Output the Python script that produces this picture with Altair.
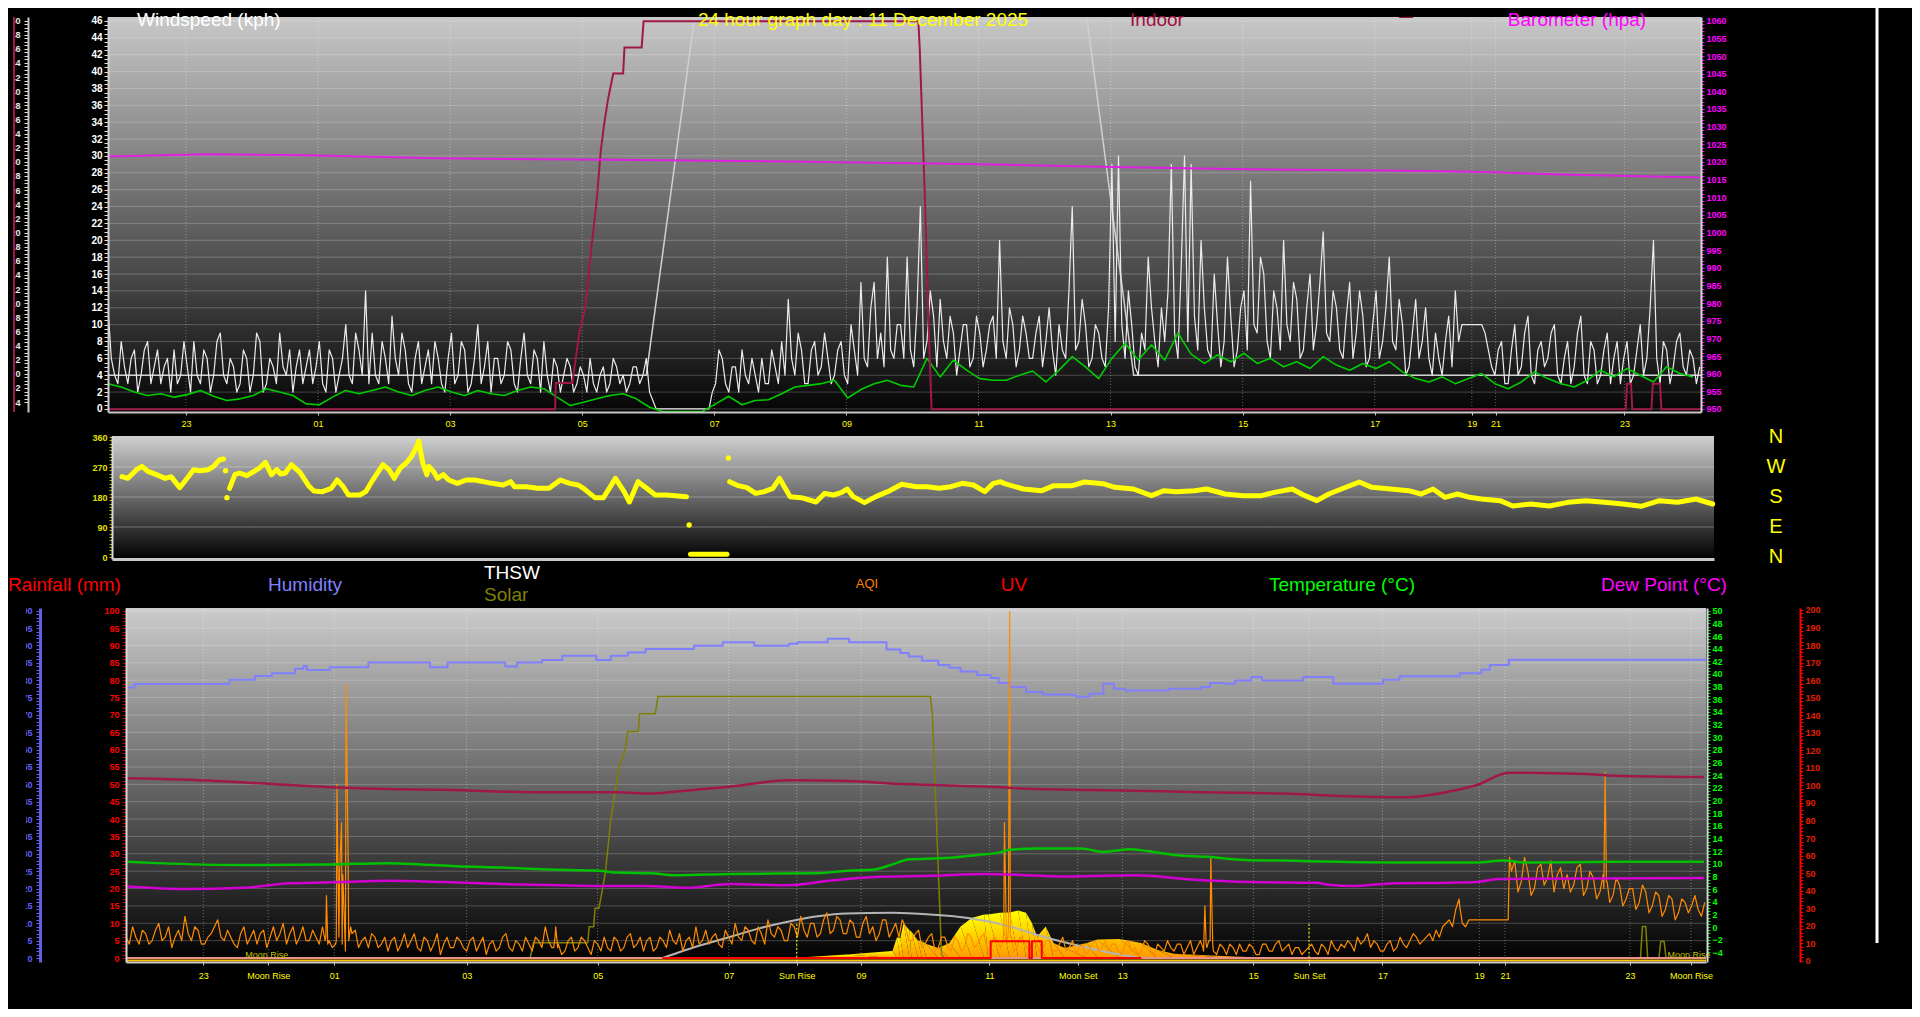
import altair as alt
import pandas as pd

U_MAX = 24.12  # graph time axis, in "hour slots" from the left edge

# ---------------- tick labels ----------------
top_tick_u = [1.18, 3.18, 5.18, 7.18, 9.18, 11.18, 13.18, 15.18, 17.18, 19.18, 20.65, 21.01, 22.96]
top_tick_lab = ["23", "01", "03", "05", "07", "09", "11", "13", "15", "17", "19", "21", "23"]
bot_tick_u = [1.18, 2.17, 3.18, 5.2, 7.2, 9.2, 10.24, 11.22, 13.18, 14.53, 15.21, 17.21, 18.06,
              19.18, 20.66, 21.05, 22.96, 23.89]
bot_tick_lab = ["23", "Moon Rise", "01", "03", "05", "07", "Sun Rise", "09", "11", "Moon Set", "13",
                "15", "Sun Set", "17", "19", "21", "23", "Moon Rise"]

# ---------------- top panel: wind ----------------
# gust samples every 0.1 slot (on the slot) and midway between (gust_mid, at +0.05)
gust_kph = [12, 4, 8, 3, 7, 4, 8, 5, 3, 6,
            7, 4, 5, 8, 3, 6, 4, 9, 3, 5,
            3, 6, 4, 8, 3, 5, 9, 4, 2, 7,
            5, 3, 8, 2, 6, 4, 10, 3, 7, 14,
            9, 3, 6, 11, 4, 7, 2, 8, 5, 3,
            6, 2, 9, 4, 7, 3, 10, 5, 2, 6,
            4, 7, 2, 9, 3, 6, 8, 2, 5, 4,
            5, 3, 4, 6, 2, 5, 3, 5, 4, 3,
            5, 4, 2, 0, 0, 0, 0, 0, 0, 0,
            0, 0, 3, 6, 2, 5, 7, 3, 4, 6,
            3, 5, 8, 13, 4, 7, 3, 8, 5, 6,
            4, 8, 3, 7, 15, 5, 15, 9, 18, 6,
            10, 18, 5, 24, 8, 11, 13, 6, 9, 7,
            10, 6, 9, 7, 11, 20, 6, 10, 7, 9,
            6, 11, 8, 7, 10, 6, 24, 8, 10, 6,
            9, 5, 29, 30, 6, 10, 4, 7, 12, 5,
            8, 29, 6, 30, 29, 7, 12, 6, 10, 8,
            11, 7, 14, 27, 9, 16, 6, 12, 20, 8,
            13, 7, 16, 10, 21, 8, 12, 6, 15, 9,
            11, 6, 14, 8, 18, 7, 10, 5, 13, 8,
            6, 9, 4, 11, 14, 10, 10, 10, 10, 7,
            4, 8, 3, 10, 5, 11, 3, 8, 6, 10,
            3, 8, 5, 11, 3, 7, 4, 9, 6, 3,
            8, 4, 10, 6, 20, 3, 7, 5, 9, 4,
            6, 5]
gust_mid = [6, 3, 5, 6, 2, 7, 3, 7, 5, 2,
            3, 8, 2, 4, 7, 2, 8, 4, 6, 2,
            7, 2, 9, 2, 6, 3, 5, 7, 5, 3,
            7, 5, 3, 7, 2, 6, 4, 9, 4, 3,
            4, 8, 3, 6, 9, 3, 6, 3, 7, 8,
            3, 6, 3, 8, 2, 6, 3, 8, 6, 3,
            8, 3, 6, 4, 7, 2, 4, 6, 2, 6,
            2, 5, 2, 3, 4, 2, 6, 3, 2, 5,
            3, 6, 1, 0, 0, 0, 0, 0, 0, 0,
            0, 2, 7, 3, 5, 2, 4, 6, 2, 3,
            7, 3, 4, 6, 9, 3, 7, 4, 9, 3,
            7, 4, 10, 4, 6, 12, 6, 5, 7, 10,
            6, 7, 12, 6, 14, 5, 8, 11, 4, 10,
            5, 11, 5, 10, 6, 8, 12, 5, 11, 6,
            9, 5, 12, 4, 7, 14, 7, 13, 5, 10,
            6, 12, 8, 10, 14, 5, 9, 18, 8, 12,
            14, 9, 17, 8, 11, 20, 7, 16, 5, 18,
            5, 12, 7, 10, 18, 8, 14, 7, 10, 15,
            6, 12, 7, 15, 9, 14, 7, 11, 6, 14,
            5, 10, 6, 12, 8, 13, 4, 9, 6, 12,
            4, 6, 8, 5, 8, 10, 10, 10, 9, 5,
            7, 3, 7, 4, 9, 4, 7, 5, 9, 4,
            6, 3, 9, 4, 8, 3, 7, 3, 8, 6,
            3, 7, 4, 12, 6, 8, 3, 8, 5, 7,
            3]
avg_kph = [3.0, 2.6, 2.0, 1.6, 1.8, 1.4, 1.7, 2.2, 1.5, 1.0,
           1.2, 1.6, 2.4, 2.0, 1.6, 0.6, 0.5, 1.4, 2.2, 1.8,
           2.2, 2.6, 2.0, 1.6, 2.2, 2.6, 2.0, 1.6, 2.2, 1.8,
           1.6, 2.2, 2.6, 2.4, 1.4, 0.4, 0.8, 1.2, 1.6, 1.8,
           1.2, 0.2, -0.3, -0.3, -0.3, -0.3, 0.6, 1.5, 0.5, 1.0,
           1.1, 1.8, 2.6, 2.8, 3.0, 3.4, 1.3, 2.3, 3.0, 3.4,
           2.8, 2.6, 6.0, 3.8, 5.8, 4.6, 3.6, 3.4, 3.4, 4.0,
           4.5, 3.2, 4.6, 6.2, 5.0, 3.6, 6.0, 7.8, 5.8, 7.6,
           5.8, 9.0, 6.5, 5.4, 6.4, 5.6, 6.6, 5.4, 6.0, 5.0,
           5.6, 4.8, 6.2, 5.2, 4.6, 5.4, 4.8, 5.6, 4.4, 3.6,
           3.2, 3.8, 3.0, 3.6, 4.2, 3.0, 2.4, 3.2, 4.4, 3.6,
           3.0, 2.6, 3.4, 4.6, 3.8, 4.8, 4.0, 3.2, 5.0, 4.2, 3.8]
light_u = [0, 8.15, 8.88, 14.82, 15.25, 15.53, 24.12]
light_kph = [4.0, 4.0, 46.4, 46.4, 20.8, 4.0, 4.0]
light_seg = [1, 1, 1, 2, 2, 2, 2]
baro_u = [0, 1.5, 3, 5, 7.6, 10, 13, 15, 17, 20, 21, 22, 24.12]
baro_hpa = [1021.5, 1022.2, 1021.9, 1021.0, 1020.6, 1020.2, 1019.4, 1018.6, 1018.0, 1017.4, 1017.1,
            1016.4, 1015.6]
indoor_u = [0, 6.77, 6.78, 7.03, 7.14, 7.23, 7.31, 7.40, 7.46, 7.51, 7.57, 7.65, 7.80, 7.82, 8.08, 8.11,
            12.27, 12.29, 12.37, 12.43, 12.47, 22.98, 23.0, 23.06, 23.08, 23.37, 23.39, 23.50, 23.52,
            24.12]
indoor_v = [-5.0, -5.0, -1.3, -1.3, 6.0, 9.5, 17.1, 24.6, 31.4, 35.2, 38.8, 42.5, 42.5, 46.2, 46.2, 49.9,
            49.9, 46.2, 24.6, 5.3, -5.0, -5.0, -1.4, -1.4, -5.0, -5.0, -1.4, -1.4, -5.0, -5.0]

# ---------------- wind direction ----------------
dir_u = [0.15, 0.24, 0.37, 0.45, 0.54, 0.67, 0.80, 0.89, 1.02, 1.13, 1.23, 1.32, 1.45, 1.53, 1.62, 1.68,
         1.77, 1.85, 1.92, 2.03, 2.14, 2.22, 2.31, 2.40, 2.48, 2.54, 2.61, 2.70, 2.83, 2.96, 3.04, 3.17,
         3.30, 3.39, 3.48, 3.56, 3.73, 3.82, 3.91, 4.08, 4.17, 4.25, 4.34, 4.43, 4.51, 4.58, 4.62, 4.66,
         4.68, 4.74, 4.77, 4.84, 4.90, 4.99, 5.07, 5.20, 5.33, 5.46, 5.59, 5.72, 5.89, 6.00, 6.06, 6.24,
         6.41, 6.58, 6.75, 6.89, 7.02, 7.10, 7.27, 7.40, 7.58, 7.71, 7.79, 7.92, 8.05, 8.18, 8.35, 8.65,
         8.71, 9.26,
         9.30, 9.43, 9.56, 9.69, 9.82, 9.95, 10.05, 10.21, 10.38, 10.60, 10.73, 10.86, 10.98, 11.07,
         11.16, 11.33, 11.50, 11.68, 11.89, 12.11, 12.28, 12.45, 12.63, 12.80, 12.97, 13.14, 13.27,
         13.38, 13.44, 13.72, 14.0, 14.18, 14.46, 14.64, 14.92, 15.10, 15.38, 15.65, 15.84, 16.02,
         16.30, 16.48, 16.76, 17.03, 17.31, 17.50, 17.77, 17.96, 18.14, 18.32, 18.51, 18.78, 18.97,
         19.25, 19.52, 19.71, 19.89, 20.07, 20.26, 20.44, 20.62, 20.90, 21.09, 21.36, 21.64, 21.92,
         22.19, 22.47, 22.75, 23.02, 23.30, 23.57, 23.85, 24.10]
dir_deg = [241, 236, 262, 272, 257, 247, 236, 241, 208, 236, 262, 259, 262, 272, 292, 294,
           206, 247, 252, 244, 257, 267, 284, 247, 262, 249, 252, 277, 254, 214, 198, 196,
           206, 231, 211, 186, 186, 196, 226, 277, 262, 236, 267, 282, 302, 328, 348, 302,
           282, 247, 272, 257, 236, 247, 231, 221, 231, 231, 226, 221, 216, 226, 211, 211,
           206, 206, 231, 221, 216, 206, 178, 178, 236, 196, 165, 226, 206, 186, 186, 181,
           8, 8,
           226, 214, 208, 191, 196, 206, 236, 181, 178, 165, 191, 186, 193, 204,
           181, 163, 181, 196, 218, 211, 211, 206, 211, 221, 216, 196, 221,
           226, 220, 204, 199, 214, 214, 225, 220, 209, 204, 184, 199, 196,
           199, 204, 189, 184, 184, 194, 204, 184, 169, 189, 204, 225, 209,
           204, 199, 189, 204, 179, 189, 179, 174, 169, 153, 159, 153, 164,
           169, 164, 159, 152, 169, 164, 174, 159]
dir_seg = [1] * 16 + [2] * 64 + [3] * 2 + [4] * 74
dir_dot_u = [1.71, 1.73, 8.69, 9.28]
dir_dot_deg = [259, 178, 96, 297]
compass_pts = ["N", "W", "S", "E", "N"]
compass_deg = [360, 270, 180, 90, 0]

# ---------------- bottom panel ----------------
hum_u = [0.0, 0.13, 1.58, 1.97, 2.23, 2.58, 2.71, 2.76, 3.11, 3.70, 4.64, 4.91, 5.79, 5.97, 6.35, 6.66,
         7.18, 7.40, 7.66, 7.93, 8.67, 9.11, 9.59, 10.12, 10.25, 10.71, 11.04, 11.61, 11.82, 11.95,
         12.15, 12.40, 12.57, 12.74, 12.99, 13.20, 13.32, 13.49, 13.74, 13.99, 14.41, 14.50, 14.71,
         14.92, 15.08, 15.25, 15.92, 16.42, 16.55, 16.76, 16.93, 17.18, 17.34, 17.97, 18.27, 18.43,
         18.81, 19.19, 19.44, 20.36, 20.69, 20.82, 21.11, 24.12]
hum_pct = [77.9, 78.9, 80.1, 81.2, 82.0, 83.3, 84.1, 82.9, 83.7, 85.1, 83.7, 85.1, 83.9, 85.1, 85.8,
           87.0, 85.8, 87.0, 88.0, 89.0, 89.9, 90.9, 89.9, 90.5, 90.9, 91.9, 90.9, 88.8, 87.8, 86.8,
           85.6, 84.4, 83.6, 82.5, 81.5, 80.6, 79.2, 78.0, 76.6, 75.9, 75.8, 75.2, 76.1, 79.0, 77.5,
           77.0, 77.5, 78.0, 79.2, 79.0, 79.9, 80.9, 79.9, 80.9, 80.9, 79.0, 79.0, 80.1, 81.1, 82.0,
           83.0, 84.4, 85.9, 85.9]
temp_u = [0.02, 0.48, 1.79, 3.11, 3.98, 4.51, 5.04, 5.74, 6.44, 7.23, 7.49, 8.02, 8.37, 9.24, 10.56,
          11.0, 11.43, 11.70, 11.96, 12.49, 13.01, 13.34, 13.49, 13.91, 14.58, 14.92, 15.34, 15.59,
          16.0, 16.51, 17.09, 17.68, 18.52, 19.36, 20.61, 21.03, 21.36, 22.71, 24.09]
temp_c = [10.3, 10.1, 9.8, 9.9, 10.1, 9.9, 9.6, 9.4, 9.1, 8.9, 8.6, 8.5, 8.2, 8.4, 8.5, 8.9, 9.1, 9.9,
          10.7, 10.9, 11.4, 11.8, 12.2, 12.4, 12.4, 11.9, 12.3, 12.0, 11.4, 11.1, 10.6, 10.5, 10.3,
          10.2, 10.2, 10.5, 10.2, 10.3, 10.3]
dew_u = [0.02, 0.92, 1.79, 2.50, 3.28, 3.98, 4.86, 5.74, 6.61, 7.23, 7.93, 8.54, 9.24, 10.12, 10.73,
         11.43, 12.31, 13.08, 14.41, 15.42, 16.26, 17.18, 18.18, 18.35, 18.77, 19.36, 20.19, 20.61,
         20.95, 24.09]
dew_c = [6.4, 6.0, 6.2, 6.9, 7.1, 7.3, 7.1, 6.8, 6.6, 6.5, 6.5, 6.2, 6.8, 6.6, 7.3, 7.9, 8.1, 8.4, 8.0,
         8.2, 7.5, 7.1, 7.0, 6.7, 6.5, 6.9, 7.0, 7.1, 7.6, 7.75]
intemp_u = [0.02, 1.36, 2.23, 3.11, 3.98, 4.86, 5.74, 6.61, 7.49, 8.02, 8.37, 9.24, 10.12, 11.0, 11.87,
            12.75, 13.08, 13.91, 15.17, 16.42, 17.68, 18.52, 19.52, 20.19, 20.61, 21.11, 22.28, 22.71,
            24.09]
intemp_c = [23.5, 23.1, 22.6, 22.1, 21.8, 21.7, 21.4, 21.3, 21.3, 21.1, 21.4, 22.2, 23.2, 23.1, 22.6,
            22.3, 22.2, 21.8, 21.6, 21.3, 21.1, 20.7, 20.5, 21.4, 22.4, 24.4, 24.2, 23.9, 23.7]
solar_u = [0, 6.17, 6.22, 7.05, 7.07, 7.14, 7.16, 7.22, 7.27, 7.32, 7.40, 7.53, 7.62, 7.66, 7.82, 7.84,
           8.08, 8.12, 12.28, 12.31, 12.45, 12.50, 23.12, 23.15, 23.20, 23.23, 23.40, 23.43, 23.48,
           23.51, 24.12]
solar_v = [0, 0, 4.4, 4.4, 9.0, 9.0, 14.3, 14.3, 19.5, 24.9, 39.8, 55.2, 60.0, 65.2, 65.2, 70.3, 70.3,
           75.3, 75.3, 70.0, 1.0, 0, 0, 9.1, 9.1, 0, 0, 4.8, 4.8, 0, 0]
thsw_u = [8.19, 8.80, 9.24, 9.68, 10.12, 10.56, 11.0, 11.70, 12.28, 12.86, 13.49, 13.99, 14.58, 15.17,
          15.50]
thsw_v = [0, 3.8, 6.2, 8.6, 10.5, 12.0, 12.8, 13.0, 12.5, 11.5, 9.1, 6.2, 3.4, 1.0, 0]
uv_u = [8.19, 13.20, 13.20, 13.79, 13.79, 13.83, 13.83, 13.98, 13.98, 15.50]
uv_v = [0, 0, 4.8, 4.8, 0, 0, 4.8, 4.8, 0, 0]
srad_u = [10.3, 10.4, 11.0, 11.7, 11.77, 11.82, 11.87, 11.96, 11.99, 12.09, 12.15, 12.22, 12.40, 12.57,
          12.74, 12.91, 13.10, 13.16, 13.34, 13.49, 13.62, 13.74, 13.83, 13.91, 14.04, 14.16, 14.33,
          14.67, 14.83, 15.17, 15.50, 15.74, 16.0, 16.84, 17.5]
srad_v = [0, 0.3, 1.0, 2.0, 6.0, 5.7, 10.0, 8.0, 7.6, 5.0, 4.8, 4.0, 2.9, 4.3, 9.1, 11.5, 12.5, 12.5,
          13.0, 13.1, 13.7, 13.0, 10.1, 6.2, 9.1, 4.3, 2.9, 4.3, 5.3, 5.5, 4.3, 2.4, 1.2, 0.5, 0]
# AQI samples every 0.1 slot, midway samples (+0.05), and the short spikes
aqi_base = [6, 9, 4, 7, 5, 10, 6, 3, 8, 12,
            5, 8, 4, 7, 11, 5, 6, 3, 9, 6,
            4, 8, 6, 5, 10, 7, 4, 9, 5, 6,
            9, 5, 4, 4, 5, 8, 5, 3, 6, 4,
            2, 6, 4, 3, 7, 2, 5, 4, 1, 6,
            3, 5, 2, 6, 4, 1, 5, 3, 7, 2,
            4, 6, 2, 5, 9, 3, 4, 2, 6, 3,
            5, 1, 4, 6, 2, 5, 3, 7, 4, 2,
            6, 3, 5, 8, 4, 2, 6, 9, 5, 4,
            7, 3, 6, 10, 5, 8, 4, 7, 11, 6,
            8, 5, 9, 12, 6, 10, 7, 13, 8, 11,
            7, 10, 6, 12, 9, 7, 11, 8, 6, 9,
            5, 8, 4, 7, 3, 6, 2, 5, 3, 6,
            4, 7, 3, 5, 8, 6, 3, 5, 2, 4,
            3, 5, 2, 6, 3, 1, 4, 2, 5, 3,
            2, 4, 1, 5, 3, 2, 4, 1, 3, 5,
            2, 4, 3, 1, 5, 3, 2, 4, 1, 3,
            4, 2, 3, 1, 4, 2, 5, 3, 1, 3,
            2, 4, 1, 3, 5, 2, 3, 4, 6, 5,
            3, 4, 2, 5, 3, 4, 5, 6, 5, 7,
            8, 9, 11, 14, 10, 11, 11, 11, 11, 11,
            11, 11, 28, 22, 25, 20, 27, 23, 19, 26,
            24, 21, 27, 20, 23, 19, 22, 18, 21, 17,
            20, 16, 19, 15, 18, 14, 17, 13, 16, 15,
            14, 16]
aqi_mid = [4, 6, 8, 4, 8, 5, 9, 6, 5, 7,
           9, 4, 6, 9, 6, 8, 4, 7, 4, 8,
           7, 3, 9, 7, 4, 9, 6, 5, 8, 4,
           6, 3, 6, 2, 7, 3, 6, 7, 3, 6,
           5, 2, 7, 5, 3, 6, 2, 7, 4, 3,
           6, 3, 5, 2, 6, 4, 2, 6, 3, 5,
           2, 4, 6, 3, 5, 6, 1, 5, 2, 6,
           3, 5, 2, 3, 6, 2, 6, 3, 6, 5,
           2, 6, 3, 5, 7, 5, 3, 4, 8, 6,
           4, 8, 4, 6, 9, 5, 9, 4, 7, 9,
           5, 10, 6, 8, 10, 6, 11, 7, 12, 7,
           11, 6, 10, 7, 5, 11, 6, 10, 11, 5,
           7, 3, 6, 2, 6, 3, 6, 2, 7, 3,
           6, 2, 6, 3, 4, 2, 6, 3, 5, 2,
           5, 2, 4, 2, 5, 3, 1, 4, 2, 5,
           4, 2, 4, 2, 1, 5, 2, 4, 2, 3,
           4, 1, 5, 3, 2, 5, 1, 3, 4, 1,
           2, 4, 1, 4, 2, 4, 2, 4, 3, 1,
           3, 2, 4, 1, 3, 4, 5, 2, 4, 7,
           5, 2, 4, 2, 6, 3, 7, 4, 6, 5,
           6, 10, 9, 17, 9, 11, 11, 11, 11, 11,
           11, 25, 19, 29, 18, 26, 21, 28, 24, 20,
           19, 26, 18, 25, 17, 24, 16, 23, 15, 20,
           14, 21, 13, 19, 12, 18, 11, 17, 13, 18,
           12]
aqi_spike_u = [3.04, 3.06, 3.08, 3.21, 3.22, 3.26, 3.29, 3.31, 3.36, 3.39, 3.43, 6.53, 6.56, 6.59,
               13.39, 13.41, 13.44, 13.47, 13.49, 13.52, 16.44, 16.47, 16.49, 16.53, 16.56, 16.59,
               20.36, 21.12, 22.56, 22.58, 22.61]
aqi_spike_v = [5, 18, 4, 5, 50, 25, 39, 24, 79, 30, 9, 3, 9, 3, 5, 39, 6, 8, 99.7, 6, 3, 15, 4, 5, 29,
               4, 15, 29, 20, 53.5, 22]
sun_events_u = [10.24, 18.06]
moon_text_u = [2.15, 23.86]

# ---------------- helpers ----------------
FONT = "Liberation Sans"
X_TOP = alt.Scale(domain=[0, U_MAX], range=[100, 1693], nice=False, zero=False)
X_DIR = alt.Scale(domain=[0, U_MAX], range=[104, 1706], nice=False, zero=False)
X_BOT = alt.Scale(domain=[0, U_MAX], range=[118, 1698], nice=False, zero=False)
WIND_D = [-0.36, 46.47]
Y_WIND = alt.Scale(domain=WIND_D, range=[404, 9], nice=False, zero=False)
Y_INDOOR = alt.Scale(domain=[-5.4, 50.5], range=[404, 9], nice=False, zero=False)
Y_BARO = alt.Scale(domain=[949.15, 1061.05], range=[404, 9], nice=False, zero=False)
DIR_D = [-6, 363]
Y_DIR = alt.Scale(domain=DIR_D, range=[551, 428], nice=False, zero=False)
RED_D = [-1.15, 100.78]
Y_RED = alt.Scale(domain=RED_D, range=[954, 600], nice=False, zero=False)
Y_GREEN = alt.Scale(domain=[-5.53, 50.43], range=[954, 600], nice=False, zero=False)
Y_BLUE = alt.Scale(domain=RED_D, range=[954, 600], nice=False, zero=False)
Y_FAR = alt.Scale(domain=[-0.6, 201.1], range=[954, 600], nice=False, zero=False)

ONE = pd.DataFrame({"k": [0]})


def df_xy(us, vs):
    return pd.DataFrame({"u": us, "v": vs, "i": list(range(len(us)))})


def merged(on_slot, mid, spike_u=(), spike_v=()):
    d = pd.DataFrame({
        "u": [round(i * 0.1, 2) for i in range(len(on_slot))] +
             [round(i * 0.1 + 0.05, 2) for i in range(len(mid))] + list(spike_u),
        "v": list(on_slot) + list(mid) + list(spike_v)})
    d = d.sort_values("u", kind="stable").reset_index(drop=True)
    d["i"] = range(len(d))
    return d


def grad(top, bottom):
    return alt.Gradient(gradient="linear", x1=0, x2=0, y1=0, y2=1,
                        stops=[alt.GradientStop(color=top, offset=0),
                               alt.GradientStop(color=bottom, offset=1)])


def lab_expr(us, labs):
    return "[" + ",".join("'" + l + "'" for l in labs) + "][indexof([" + \
        ",".join(str(u) for u in us) + "], datum.value)]"


def y_axis(orient, offset, values, every, color, tick_color, domain_color, domain_width=1,
           zindex=1, size=10, pad=2, tick_size=4):
    return alt.Axis(orient=orient, offset=offset, values=values,
                    labelExpr=f"abs(datum.value % {every}) < 0.001 ? format(datum.value, 'd') : ''",
                    labelColor=color, labelFont=FONT, labelFontSize=size, labelFontWeight="bold",
                    tickColor=tick_color, tickSize=tick_size, tickWidth=1,
                    domainColor=domain_color, domainWidth=domain_width, labelPadding=pad,
                    grid=False, title=None, labelOverlap=False, labelFlush=False, zindex=zindex)


def x_axis(offset, us, labs, pad):
    return alt.Axis(orient="bottom", offset=offset, values=us, labelExpr=lab_expr(us, labs),
                    labelColor="#ffff00", labelFont=FONT, labelFontSize=9, tickColor="#c8c8c8",
                    tickSize=3, domainColor="#c8c8c8", domainWidth=2, labelPadding=pad, title=None,
                    grid=False, labelOverlap=False, labelFlush=False, zindex=1)


def carrier(xs, ys, xaxis, yaxis):
    """invisible mark that only carries a panel's axes"""
    return alt.Chart(ONE).mark_point(opacity=0).encode(
        x=alt.XDatum(0, scale=xs, axis=xaxis), y=alt.YDatum(0, scale=ys, axis=yaxis))


def line(df, color, width, interp="linear", dash=None, opacity=1.0):
    kw = dict(color=color, strokeWidth=width, interpolate=interp, opacity=opacity,
              strokeJoin="round")
    if dash:
        kw["strokeDash"] = dash
    return alt.Chart(df).mark_line(**kw).encode(
        x=alt.X("u:Q", axis=None), y=alt.Y("v:Q", axis=None), order="i:Q")


def bg(xs, ys, dom, top, bottom):
    return alt.Chart(ONE).mark_rect(color=grad(top, bottom)).encode(
        x=alt.XDatum(0, scale=xs, axis=None), x2=alt.X2Datum(U_MAX),
        y=alt.YDatum(dom[0], scale=ys, axis=None), y2=alt.Y2Datum(dom[1]))


def hgrid(values, opacity=0.22):
    return alt.Chart(pd.DataFrame({"v": values})).mark_rule(
        color="#ffffff", opacity=opacity, strokeWidth=1).encode(
        y=alt.Y("v:Q", axis=None), x=alt.XDatum(0, axis=None), x2=alt.X2Datum(U_MAX))


def vgrid(us, dom, opacity=0.35):
    return alt.Chart(pd.DataFrame({"u": us})).mark_rule(
        color="#ffffff", opacity=opacity, strokeDash=[1, 2]).encode(
        x=alt.X("u:Q", axis=None), y=alt.YDatum(dom[0], axis=None), y2=alt.Y2Datum(dom[1]))


def text(t, x, y, color, size=19, align="left", baseline="alphabetic"):
    return alt.Chart(ONE).mark_text(text=t, color=color, fontSize=size, font=FONT, align=align,
                                    baseline=baseline).encode(x=alt.value(x), y=alt.value(y))


# ---------------- top panel ----------------
light_df = pd.DataFrame({"u": light_u, "v": light_kph, "seg": light_seg, "i": list(range(len(light_u)))})
top_group = alt.layer(
    bg(X_TOP, Y_WIND, WIND_D, "#c8c8c8", "#050505"),
    hgrid(list(range(0, 47, 2))),
    vgrid(top_tick_u, WIND_D),
    alt.Chart(light_df).mark_line(color="#d0d0d0", strokeWidth=1.5).encode(
        x=alt.X("u:Q", axis=None), y=alt.Y("v:Q", axis=None), detail="seg:N", order="i:Q"),
    line(merged(gust_kph, gust_mid), "#ececec", 1.2),
    line(df_xy([round(i * 0.2, 1) for i in range(len(avg_kph))], avg_kph), "#00cc00", 1.6),
)
top_axes = carrier(X_TOP, Y_WIND, x_axis(-597, top_tick_u, top_tick_lab, 4),
                   y_axis("left", -100, [k * 0.5 for k in range(93)], 2, "#ffffff", "#e0e0e0",
                          "#d0d0d0", 2))
indoor_group = alt.Chart(df_xy(indoor_u, indoor_v)).mark_line(color="#a0184a", strokeWidth=2).encode(
    x=alt.X("u:Q", scale=X_TOP, axis=None),
    y=alt.Y("v:Q", scale=Y_INDOOR,
            axis=y_axis("left", -20, [-4 + k * 0.5 for k in range(109)], 2, "#e8e8e8", "#e0e0e0",
                        "#c8c8c8", 2, zindex=0, size=9, pad=4)),
    order="i:Q")
baro_group = alt.Chart(df_xy(baro_u, baro_hpa)).mark_line(color="#e020e0", strokeWidth=2).encode(
    x=alt.X("u:Q", scale=X_TOP, axis=None),
    y=alt.Y("v:Q", scale=Y_BARO,
            axis=y_axis("right", -211, list(range(950, 1061)), 5, "#ff00ff", "#ff00ff",
                        "#d8d8d8", 2, size=9, tick_size=3)),
    order="i:Q")

# ---------------- wind direction panel ----------------
dir_df = pd.DataFrame({"u": dir_u, "v": dir_deg, "seg": dir_seg, "i": list(range(len(dir_u)))})
dir_group = alt.layer(
    bg(X_DIR, Y_DIR, DIR_D, "#d0d0d0", "#000000"),
    hgrid([90, 180, 270], 0.3),
    alt.Chart(dir_df).mark_line(color="#ffff00", strokeWidth=5, strokeCap="round",
                                strokeJoin="round").encode(
        x=alt.X("u:Q", axis=None), y=alt.Y("v:Q", axis=None), detail="seg:N", order="i:Q"),
    alt.Chart(pd.DataFrame({"u": dir_dot_u, "v": dir_dot_deg})).mark_circle(
        color="#ffff00", size=28, opacity=1).encode(x=alt.X("u:Q", axis=None), y=alt.Y("v:Q", axis=None)),
    alt.Chart(pd.DataFrame({"t": compass_pts, "d": compass_deg})).mark_text(
        color="#ffff00", fontSize=20, font=FONT).encode(
        text="t:N", y=alt.Y("d:Q", axis=None), x=alt.value(1768)),
)
dir_axes = carrier(
    X_DIR, Y_DIR,
    alt.Axis(orient="bottom", offset=-450, labels=False, ticks=False, domainColor="#c8c8c8",
             domainWidth=3, title=None, grid=False, zindex=1),
    y_axis("left", -104, list(range(0, 361, 10)), 90, "#e0e000", "#b0b000", "#d8d8d8", 2,
           size=9, tick_size=3))

# ---------------- bottom panel ----------------
red_group = alt.layer(
    bg(X_BOT, Y_RED, RED_D, "#cccccc", "#000000"),
    hgrid(list(range(0, 101, 5))),
    vgrid(bot_tick_u, RED_D),
    alt.Chart(df_xy(srad_u, srad_v)).mark_area(
        color=grad("#ffff00", "#ff9900"), line=False, interpolate="linear").encode(
        x=alt.X("u:Q", axis=None), y=alt.Y("v:Q", axis=None), order="i:Q"),
    line(df_xy(hum_u, hum_pct), "#8080ff", 2, "step-after"),
    line(df_xy(solar_u, solar_v), "#808000", 1.5),
    line(df_xy(thsw_u, thsw_v), "#b4b4b4", 2, "monotone"),
    line(merged(aqi_base, aqi_mid, aqi_spike_u, aqi_spike_v), "#ff8c00", 1.2),
    line(df_xy([0, U_MAX], [0, 0]), "#e89090", 2),
    line(df_xy(uv_u, uv_v), "#ff0000", 2),
    line(df_xy([0, U_MAX], [-0.7, -0.7]), "#ffc000", 2),
    alt.Chart(pd.DataFrame({"u": sun_events_u})).mark_rule(color="#ffff00", strokeDash=[2, 2]).encode(
        x=alt.X("u:Q", axis=None), y=alt.YDatum(-1.1, axis=None), y2=alt.Y2Datum(10)),
    alt.Chart(pd.DataFrame({"u": moon_text_u})).mark_text(
        text="Moon Rise", color="#c0c000", fontSize=9, font=FONT).encode(
        x=alt.X("u:Q", axis=None), y=alt.YDatum(0.8, axis=None)),
)
red_axes = carrier(X_BOT, Y_RED, x_axis(-47, bot_tick_u, bot_tick_lab, 6),
                   y_axis("left", -118, list(range(0, 101)), 5, "#ff0000", "#c00000", "#d8d8d8", 2,
                          size=9, pad=3, tick_size=4))
green_group = alt.layer(
    alt.Chart(df_xy(intemp_u, intemp_c)).mark_line(color="#a0184a", strokeWidth=2.5,
                                                   interpolate="monotone").encode(
        x=alt.X("u:Q", scale=X_BOT, axis=None), y=alt.Y("v:Q", scale=Y_GREEN, axis=None),
        order="i:Q"),
    line(df_xy(temp_u, temp_c), "#00c000", 2.5, "monotone"),
    line(df_xy(dew_u, dew_c), "#d000d0", 2.5, "monotone"),
)
green_axes = carrier(X_BOT, Y_GREEN, None,
                     y_axis("right", -205, [-4 + k * 0.5 for k in range(109)], 2, "#00ff00", "#00e000",
                            "#d8d8d8", 2, size=9, tick_size=3))
blue_axes = carrier(X_BOT, Y_BLUE, None,
                    y_axis("left", -32, list(range(0, 101)), 5, "#6060ff", "#6060ff", "#6060e0", 3,
                           zindex=0, size=9, pad=4, tick_size=4))
far_axes = carrier(X_BOT, Y_FAR, None,
                   y_axis("right", -112, list(range(0, 201, 2)), 10, "#e02000", "#ff0000",
                          "#ff0000", 2, size=9, tick_size=3))

# ---------------- texts, frame pieces ----------------
labels = [
    text("Windspeed (kph)", 129, 18, "#ffffff"),
    text("24 hour graph day : 11 December 2025", 855, 18, "#ffff00", align="center"),
    text("Indoor", 1149, 18, "#a01040", align="center"),
    text("\u2014", 1398, 13, "#a01040", size=14, align="center"),
    text("Barometer (hpa)", 1569, 18, "#ff00ff", align="center"),
    text("Rainfall (mm)", 0, 583, "#ff0000"),
    text("Humidity", 297, 583, "#8080ff", align="center"),
    text("THSW", 476, 571, "#ffffff"),
    text("Solar", 476, 593, "#808000"),
    text("AQI", 859, 580, "#ff8000", size=13, align="center"),
    text("UV", 1006, 583, "#ff0000", align="center"),
    text("Temperature (\u00b0C)", 1334, 583, "#00ff00", align="center"),
    text("Dew Point (\u00b0C)", 1656, 583, "#ff00ff", align="center"),
]
clips = [
    alt.Chart(ONE).mark_rect(color="#000000").encode(
        x=alt.value(0), x2=alt.value(5), y=alt.value(0), y2=alt.value(412)),
    alt.Chart(ONE).mark_rule(color="#a0184a", strokeWidth=2).encode(
        x=alt.value(6), y=alt.value(9), y2=alt.value(404)),
    alt.Chart(ONE).mark_rect(color="#000000").encode(
        x=alt.value(0), x2=alt.value(18), y=alt.value(594), y2=alt.value(964)),
    alt.Chart(ONE).mark_rule(color="#ffffff", strokeWidth=3).encode(
        x=alt.value(1869), y=alt.value(0), y2=alt.value(935)),
]

chart = alt.layer(
    top_group, indoor_group, baro_group, dir_group, red_group, green_group,
    top_axes, dir_axes, red_axes, green_axes, blue_axes, far_axes,
    *labels, *clips
).resolve_scale(x="independent", y="independent").properties(
    width=1904, height=1001, padding=0, background="#000000",
    autosize=alt.AutoSizeParams(type="none"),
).configure(font=FONT).configure_view(stroke="transparent")

chart.save("out.html", embed_options={"renderer": "svg", "actions": False})
